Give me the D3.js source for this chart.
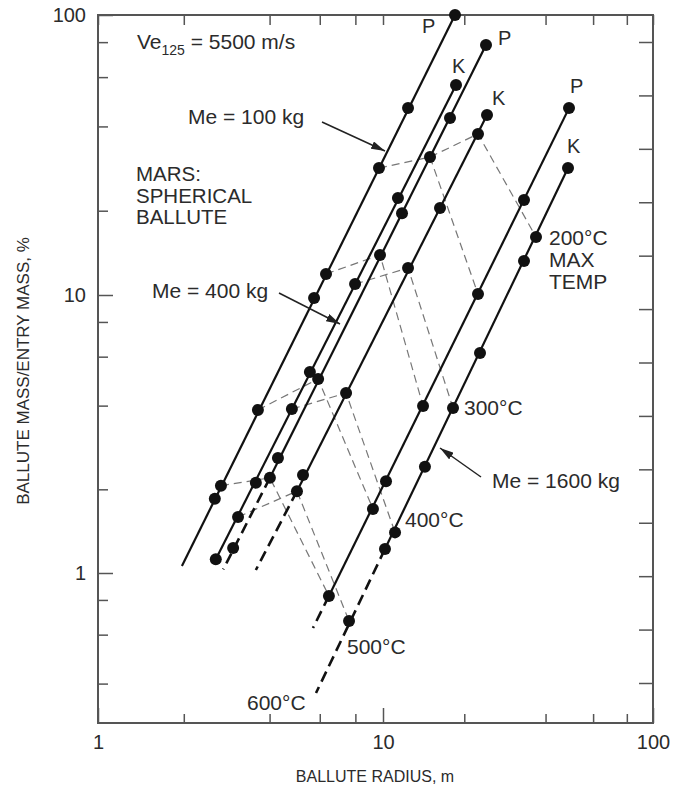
<!DOCTYPE html>
<html>
<head>
<meta charset="utf-8">
<script src="https://cdn.jsdelivr.net/npm/d3@7"></script>
<style>
  body { margin: 0; background: #fff; }
  svg text { font-family: "Liberation Sans", Arial, Helvetica, sans-serif; fill: #2b2b2b; }
</style>
</head>
<body>
<div id="chart"></div>
<script>
// tick values
const xMajor = [1, 10, 100];
const xMinor = [2, 4, 6, 8, 20, 40, 60, 80];
const yMajor = [1, 10, 100];
const yMinor = [0.4, 0.6, 0.8, 2, 4, 6, 8, 20, 40, 60, 80];
const rightTicks = [0, 1, 2, 3, 4, 5, 6, 7, 8, 9, 10, 11, 12];

// curves, order: Me100 P, Me100 K, Me400 P, Me400 K, Me1600 P, Me1600 K
// values are [radius m, mass %]
const solidTop = [[18.48, 100], [18.64, 56.2], [24.07, 78.1], [24.28, 43.95], [48.86, 46.5], [48.44, 28.4]];
const solidEnd = [[1.97, 1.06], [2.59, 1.12], [4.01, 2.20], [4.99, 1.97], [6.46, 0.827], [10.17, 1.22]];
const dashEnd = [null, null, [2.75, 1.03], [3.58, 1.025], [5.68, 0.634], [5.82, 0.370]];

// markers on each curve
const pts100P = [[18.48, 100], [12.38, 46.5], [9.68, 28.4], [6.31, 11.89], [5.73, 9.75], [3.64, 3.86], [2.70, 2.06], [2.57, 1.85]];
const pts100K = [[18.64, 56.2], [11.36, 22.2], [7.98, 10.94], [5.54, 5.28], [4.79, 3.89], [3.58, 2.11], [3.10, 1.59], [2.59, 1.12]];
const pts400P = [[24.07, 78.1], [17.71, 42.9], [14.93, 31.1], [11.76, 19.6], [9.76, 13.9], [5.92, 4.99], [4.28, 2.59], [4.01, 2.20], [2.98, 1.23]];
const pts400K = [[24.28, 43.95], [22.48, 37.6], [16.26, 20.45], [12.38, 12.49], [7.42, 4.44], [5.24, 2.25], [4.99, 1.97]];
const pts1600P = [[48.86, 46.5], [33.28, 21.85], [22.48, 10.08], [14.07, 3.99], [10.26, 2.14], [9.22, 1.70], [6.46, 0.827]];
const pts1600K = [[48.44, 28.4], [36.87, 16.11], [33.28, 13.23], [22.87, 6.18], [18.17, 3.92], [14.30, 2.41], [11.08, 1.40], [10.17, 1.22], [7.6, 0.672]];

// max temperature lines (thin dashed)
const isoP200 = [[9.68, 28.4], [14.93, 31.1], [22.48, 10.08]];
const isoK200 = [[14.93, 31.1], [22.48, 37.6], [36.87, 16.11]];
const isoP300 = [[6.31, 11.89], [9.76, 13.9], [14.07, 3.99]];
const isoK300 = [[7.98, 10.94], [12.38, 12.49], [18.17, 3.92]];
const isoP400 = [[3.64, 3.86], [5.92, 4.99], [9.22, 1.70]];
const isoK400 = [[4.79, 3.89], [7.42, 4.44], [11.08, 1.40]];
const isoP500 = [[2.70, 2.06], [4.01, 2.20], [6.46, 0.827]];
const isoK500 = [[3.10, 1.59], [4.99, 1.97], [7.6, 0.672]];

const W = 688, H = 795;
const plot = { left: 98, right: 653, top: 15, bottom: 723 };

const svg = d3.select("#chart").append("svg")
    .attr("width", W)
    .attr("height", H);

// log scales (the scanned decades are not exactly equal, so piecewise)
const x = d3.scaleLog().domain([1, 10, 100]).range([plot.left, 383, plot.right]);
const y = d3.scaleLog().domain([0.2886, 1, 10, 100]).range([plot.bottom, 573, 295, plot.top]);
const yRight = d3.scaleLinear().domain([0, 12]).range([683, 42]);

const frameColor = "#555";

function styleAxis(g) {
    g.select(".domain").remove();
    g.attr("font-family", null).attr("font-size", null);
    g.selectAll(".tick line").attr("stroke", frameColor).attr("stroke-width", 1.5);
    g.selectAll(".tick text").style("font-size", "20px").attr("fill", "#2b2b2b");
}

// bottom
svg.append("g").attr("transform", `translate(0,${plot.bottom})`)
    .call(d3.axisBottom(x).tickValues(xMajor).tickFormat(d3.format("d")).tickSize(-15).tickPadding(12))
    .call(styleAxis);
svg.append("g").attr("transform", `translate(0,${plot.bottom})`)
    .call(d3.axisBottom(x).tickValues(xMinor).tickFormat("").tickSize(-9))
    .call(styleAxis);
// top
svg.append("g").attr("transform", `translate(0,${plot.top})`)
    .call(d3.axisTop(x).tickValues(xMajor.concat(xMinor)).tickFormat("").tickSize(-10))
    .call(styleAxis);
// left
svg.append("g").attr("transform", `translate(${plot.left},0)`)
    .call(d3.axisLeft(y).tickValues(yMajor).tickFormat(d3.format("d")).tickSize(-15).tickPadding(12))
    .call(styleAxis);
svg.append("g").attr("transform", `translate(${plot.left},0)`)
    .call(d3.axisLeft(y).tickValues(yMinor).tickFormat("").tickSize(-10))
    .call(styleAxis);
// right
svg.append("g").attr("transform", `translate(${plot.right},0)`)
    .call(d3.axisRight(yRight).tickValues(rightTicks).tickFormat("").tickSize(-14))
    .call(styleAxis);

// frame
svg.append("rect")
    .attr("x", plot.left).attr("y", plot.top)
    .attr("width", plot.right - plot.left).attr("height", plot.bottom - plot.top)
    .attr("fill", "none").attr("stroke", frameColor).attr("stroke-width", 2);

// axis titles
svg.append("text")
    .attr("x", 375).attr("y", 782)
    .attr("text-anchor", "middle")
    .style("font-size", "16px")
    .text("BALLUTE RADIUS, m");

svg.append("text")
    .attr("transform", "translate(29,371) rotate(-90)")
    .attr("text-anchor", "middle")
    .style("font-size", "17px")
    .text("BALLUTE MASS/ENTRY MASS, %");

const line = d3.line().x(d => x(d[0])).y(d => y(d[1]));

// isotherms
const isotherms = [isoP200, isoK200, isoP300, isoK300, isoP400, isoK400, isoP500, isoK500];
svg.append("g").selectAll("path")
    .data(isotherms)
    .join("path")
    .attr("d", line)
    .attr("fill", "none")
    .attr("stroke", "#777")
    .attr("stroke-width", 1.2)
    .attr("stroke-dasharray", "8,5");

// solid parts of curves
svg.append("g").selectAll("path")
    .data(d3.range(solidTop.length))
    .join("path")
    .attr("d", i => line([solidTop[i], solidEnd[i]]))
    .attr("fill", "none")
    .attr("stroke", "#111")
    .attr("stroke-width", 2.2);

// dashed extrapolations
svg.append("g").selectAll("path")
    .data(d3.range(solidTop.length).filter(i => dashEnd[i]))
    .join("path")
    .attr("d", i => line([solidEnd[i], dashEnd[i]]))
    .attr("fill", "none")
    .attr("stroke", "#111")
    .attr("stroke-width", 2.6)
    .attr("stroke-dasharray", "11,6");

// markers
const allPts = [].concat(pts100P, pts100K, pts400P, pts400K, pts1600P, pts1600K);
svg.append("g").selectAll("circle")
    .data(allPts)
    .join("circle")
    .attr("cx", d => x(d[0]))
    .attr("cy", d => y(d[1]))
    .attr("r", 6)
    .attr("fill", "#111");

// P / K labels next to the top of each curve
const curveLabels = ["P", "K", "P", "K", "P", "K"];
const labelOffsets = [[-33, 18], [-4, -12], [12, 0], [5, -10], [1, -15], [-1, -15]];
svg.append("g").selectAll("text")
    .data(d3.range(curveLabels.length))
    .join("text")
    .attr("x", i => x(solidTop[i][0]) + labelOffsets[i][0])
    .attr("y", i => y(solidTop[i][1]) + labelOffsets[i][1])
    .style("font-size", "20px")
    .text(i => curveLabels[i]);

// annotations
const note = (tx, ty, str, size) => svg.append("text")
    .attr("x", tx).attr("y", ty)
    .style("font-size", (size || 21) + "px")
    .text(str);

const ve = svg.append("text").attr("x", 137).attr("y", 49).style("font-size", "21px");
ve.append("tspan").text("Ve");
ve.append("tspan").attr("dy", 6).style("font-size", "14px").text("125");
ve.append("tspan").attr("dy", -6).text(" = 5500 m/s");

note(188, 124, "Me = 100 kg");

// stacked text blocks
function block(tx, ty, lines, step, size) {
    const t = svg.append("text").attr("x", tx).attr("y", ty).style("font-size", size + "px");
    lines.forEach((s, i) => t.append("tspan").attr("x", tx).attr("dy", i ? step : 0).text(s));
}
block(136, 181, ["MARS:", "SPHERICAL", "BALLUTE"], 21.5, 20.5);
block(549, 245, ["200°C", "MAX", "TEMP"], 22, 21);

note(152, 298, "Me = 400 kg");
note(464, 415, "300°C");
note(492, 488, "Me = 1600 kg");
note(405, 527, "400°C");
note(347, 654, "500°C");
note(247, 710, "600°C");

// arrows
svg.append("defs").append("marker")
    .attr("id", "head")
    .attr("viewBox", "0 0 14 8")
    .attr("refX", 14).attr("refY", 4)
    .attr("markerWidth", 14).attr("markerHeight", 8)
    .attr("markerUnits", "userSpaceOnUse")
    .attr("orient", "auto")
    .append("path")
    .attr("d", "M0,0 L14,4 L0,8 Z")
    .attr("fill", "#222");

const arrows = [[322, 122, 385, 151], [279, 293, 340, 324], [481, 477, 440, 448]];
svg.append("g").selectAll("line")
    .data(arrows)
    .join("line")
    .attr("x1", d => d[0]).attr("y1", d => d[1])
    .attr("x2", d => d[2]).attr("y2", d => d[3])
    .attr("stroke", "#222")
    .attr("stroke-width", 1.5)
    .attr("marker-end", "url(#head)");
</script>
</body>
</html>
